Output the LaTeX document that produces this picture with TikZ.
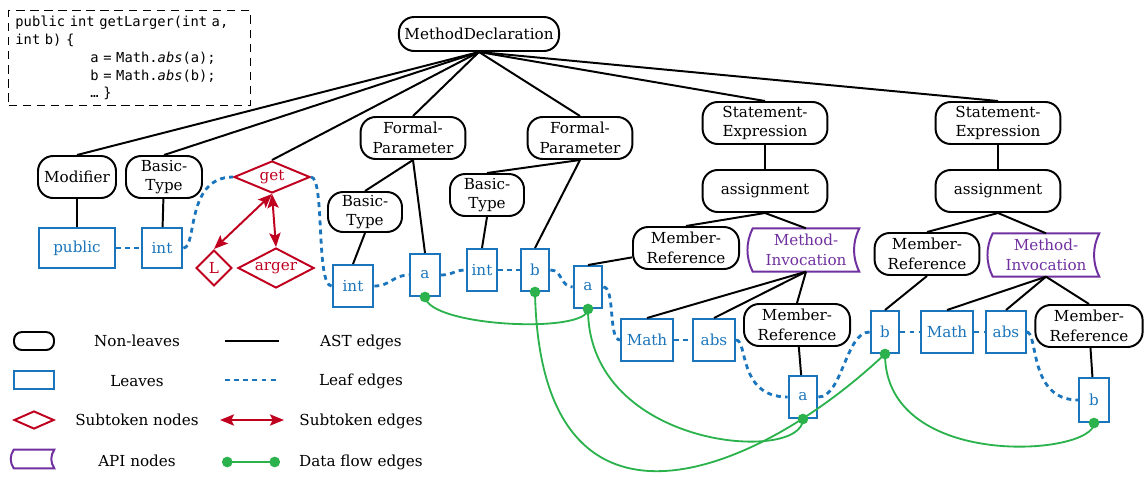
\documentclass[tikz,border=0pt]{standalone}
\usepackage{fontspec}
\setmainfont{DejaVu Serif}
\setmonofont{DejaVu Sans Mono}[WordSpace={1,0,0}]
\usepackage{tikz}
\usetikzlibrary{shapes.geometric, arrows.meta, calc}
\definecolor{leafblue}{HTML}{1A75BC}
\definecolor{subred}{HTML}{C0001F}
\definecolor{apipurple}{HTML}{7030A0}
\definecolor{flowgreen}{HTML}{2BB24C}

\begin{document}
\begin{tikzpicture}[x=0.025cm, y=-0.025cm,
  every node/.style={font=\fontsize{10.8}{14}\selectfont, inner sep=1pt},
  nonleaf/.style={draw, line width=1.4pt, rounded corners=0.38cm, align=center, minimum height=1.05cm},
  leaf/.style={draw=leafblue, text=leafblue, line width=1.4pt, minimum height=1.05cm},
  subtok/.style={diamond, aspect=2, draw=subred, text=subred, line width=1.4pt, inner sep=0pt},
  api/.style={text=apipurple, align=center, minimum width=2.65cm, minimum height=1.07cm},
  ast/.style={line width=1.4pt},
  leafedge/.style={draw=leafblue, line width=2pt, dash pattern=on 3.5pt off 3pt},
  subedge/.style={draw=subred, line width=1.4pt, {Stealth[length=10pt,width=8pt,inset=2pt]}-{Stealth[length=10pt,width=8pt,inset=2pt]}},
  dataflow/.style={draw=flowgreen, line width=1.3pt},
]
\useasboundingbox (0,0) rectangle (1146,481);

% Source code
\node[font=\ttfamily\fontsize{9.8}{12.6}\selectfont, draw, dash pattern=on 6pt off 4pt, line width=0.9pt,
  anchor=north west, text width=5.7cm, minimum height=2.375cm, inner xsep=0.17cm, inner ysep=2pt, align=left] (code) at (8,10)
  {public int getLarger(int a,\\int b) \{\\\hspace*{1.875cm}a = Math.\textit{abs}(a);\\\hspace*{1.875cm}b = Math.\textit{abs}(b);\\\hspace*{1.875cm}… \}};

% Non-leaves
\node[nonleaf, minimum width=4cm, minimum height=0.85cm] (md) at (479,34) {MethodDeclaration};
\node[nonleaf, minimum width=1.95cm] (mod) at (77,177) {Modifier};
\node[nonleaf, minimum width=1.9cm] (bt1) at (164,177) {Basic-\\Type};
\node[nonleaf, minimum width=2.62cm] (fp1) at (413,138) {Formal-\\Parameter};
\node[nonleaf, minimum width=1.85cm, minimum height=1cm] (bt2) at (365,212) {Basic-\\Type};
\node[nonleaf, minimum width=2.62cm] (fp2) at (580,138) {Formal-\\Parameter};
\node[nonleaf, minimum width=1.85cm] (bt3) at (487,195) {Basic-\\Type};
\node[nonleaf, minimum width=3.12cm] (se1) at (765,123) {Statement-\\Expression};
\node[nonleaf, minimum width=3.12cm] (as1) at (765,191) {assignment};
\node[nonleaf, minimum width=2.65cm] (mr1) at (686,248) {Member-\\Reference};
\node[api] (mi1) at (806,250) {Method-\\Invocation};
\node[nonleaf, minimum width=2.65cm] (mr2) at (797,325) {Member-\\Reference};
\node[nonleaf, minimum width=3.12cm] (se2) at (998,123) {Statement-\\Expression};
\node[nonleaf, minimum width=3.12cm] (as2) at (998,191) {assignment};
\node[nonleaf, minimum width=2.62cm] (mr3) at (927,254) {Member-\\Reference};
\node[api] (mi2) at (1046,255) {Method-\\Invocation};
\node[nonleaf, minimum width=2.68cm] (mr4) at (1089,326) {Member-\\Reference};

% Leaves
\node[leaf, minimum width=1.9cm, minimum height=1cm] (public) at (77,248) {public};
\node[leaf, minimum width=1.02cm, minimum height=1cm] (int1) at (162,248) {int};
\node[leaf, minimum width=1.02cm] (int2) at (353,286) {int};
\node[leaf, minimum width=0.75cm] (a1) at (425,275) {a};
\node[leaf, minimum width=0.75cm] (int3) at (482,270) {int};
\node[leaf, minimum width=0.72cm] (b1) at (535,270) {b};
\node[leaf, minimum width=0.72cm] (a2) at (588,287) {a};
\node[leaf, minimum width=1.3cm] (math1) at (647,340) {Math};
\node[leaf, minimum width=1.05cm] (abs1) at (714,340) {abs};
\node[leaf, minimum width=0.72cm] (a3) at (803,397) {a};
\node[leaf, minimum width=0.72cm] (b2) at (885,332) {b};
\node[leaf, minimum width=1.32cm] (math2) at (947,332) {Math};
\node[leaf, minimum width=0.98cm] (abs2) at (1006,332) {abs};
\node[leaf, minimum width=0.75cm, minimum height=1.1cm] (b3) at (1094,400) {b};

% Subtokens
\node[subtok, minimum width=1.9cm, minimum height=0.8cm] (get) at (272,177) {get};
\node[subtok, aspect=1, minimum width=0.9cm, minimum height=0.9cm] (L) at (214,268) {L};
\node[subtok, minimum width=1.9cm, minimum height=1cm] (arger) at (276,268) {arger};

% Legend
\node[nonleaf, minimum width=1cm, minimum height=0.45cm, rounded corners=0.2cm] (lgnon) at (34,341) {};
\node[leaf, minimum width=1cm, minimum height=0.45cm] (lgleaf) at (34,380) {};
\node[subtok, minimum width=1cm, minimum height=0.45cm] (lgsub) at (34,420) {};
\node[api, minimum width=1cm, minimum height=0.45cm] (lgapi) at (34,459) {};
\node (lgnontxt) at (137,341) {Non-leaves};
\node (lgleaftxt) at (137,381) {Leaves};
\node (lgsubtxt) at (137,420) {Subtoken nodes};
\node (lgapitxt) at (137,461) {API nodes};
\node (lgasttxt) at (361,342) {AST edges};
\node (lgleafedgetxt) at (361,381) {Leaf edges};
\node (lgsubedgetxt) at (361,421) {Subtoken edges};
\node (lgflowtxt) at (361,462) {Data flow edges};
\coordinate (astl) at (225,341);  \coordinate (astr) at (279,341);
\coordinate (leafl) at (225,380); \coordinate (leafr) at (279,380);
\coordinate (subl) at (220,420);  \coordinate (subr) at (284,420);
\coordinate (flowl) at (222,462); \coordinate (flowr) at (280,462);

% API node borders
\foreach \n/\d/\e in {mi1/7/14, mi2/7/14, lgapi/4/6}
  \draw[apipurple, line width=1.4pt] (\n.north west) -- (\n.north east)
    .. controls +(-\d,\e) and +(-\d,-\e) .. (\n.south east) -- (\n.south west)
    .. controls +(-\d,-\e) and +(-\d,\e) .. (\n.north west) -- cycle;

% AST edges
\foreach \c in {mod, bt1, get, fp1, fp2, se1, se2}
  \draw[ast] (md.south) -- (\c.north);
\draw[ast] (mod) -- (public);
\draw[ast] (bt1) -- (int1);
\draw[ast] (fp1.south) -- (bt2.north);
\draw[ast] (fp1.south) -- (a1.north);
\draw[ast] (bt2.south) -- (int2.north);
\draw[ast] (fp2.south) -- (bt3.north);
\draw[ast] (fp2.south) -- (b1.north);
\draw[ast] (bt3.south) -- (int3.north);
\draw[ast] (se1) -- (as1);
\draw[ast] (as1.south) -- (mr1.north);
\draw[ast] (as1.south) -- (mi1.north);
\draw[ast] (mr1) -- (a2.north);
\foreach \c in {math1, abs1, mr2}
  \draw[ast] (mi1.south) -- (\c.north);
\draw[ast] (mr2) -- (a3);
\draw[ast] (se2) -- (as2);
\draw[ast] (as2.south) -- (mr3.north);
\draw[ast] (as2.south) -- (mi2.north);
\draw[ast] (mr3.south) -- (b2.north);
\foreach \c in {math2, abs2, mr4}
  \draw[ast] (mi2.south) -- (\c.north);
\draw[ast] (mr4) -- (b3);

% Leaf edges
\foreach \a/\b/\p/\q in {public/int1/10/10, int1/get/14/48, get/int2/14/16, int2/a1/16/16, a1/int3/12/12,
                         int3/b1/12/12, b1/a2/12/12, a2/math1/12/12, math1/abs1/10/10, abs1/a3/12/50,
                         a3/b2/24/24, b2/math2/10/10, math2/abs2/8/8, abs2/b3/12/50}
  \draw[leafedge] (\a.east) .. controls +(\p,0) and +(-\q,0) .. (\b.west);

% Subtoken edges
\draw[subedge] (get.south) -- (L.north);
\draw[subedge] (get.south) -- (arger.north);

% Data flow edges
\draw[dataflow] (a1.south) .. controls +(5,30) and +(0,25) .. (a2.south);
\draw[dataflow] (a2.south) .. controls +(0,140) and +(0,45) .. (a3.south);
\draw[dataflow] (b1.south) .. controls +(5,268) and +(-135,127) .. (b2.south);
\draw[dataflow] (b2.south) .. controls +(0,117) and +(0,33) .. (b3.south);
\foreach \n in {a1, a2, a3, b1, b2, b3}
  \fill[flowgreen] (\n.south) circle (3.8pt);

% Legend edges
\draw[ast] (astl) -- (astr);
\draw[leafedge] (leafl) -- (leafr);
\draw[subedge] (subl) -- (subr);
\draw[dataflow, {Circle[length=7.5pt]}-{Circle[length=7.5pt]}] (flowl) -- (flowr);

\end{tikzpicture}
\end{document}
